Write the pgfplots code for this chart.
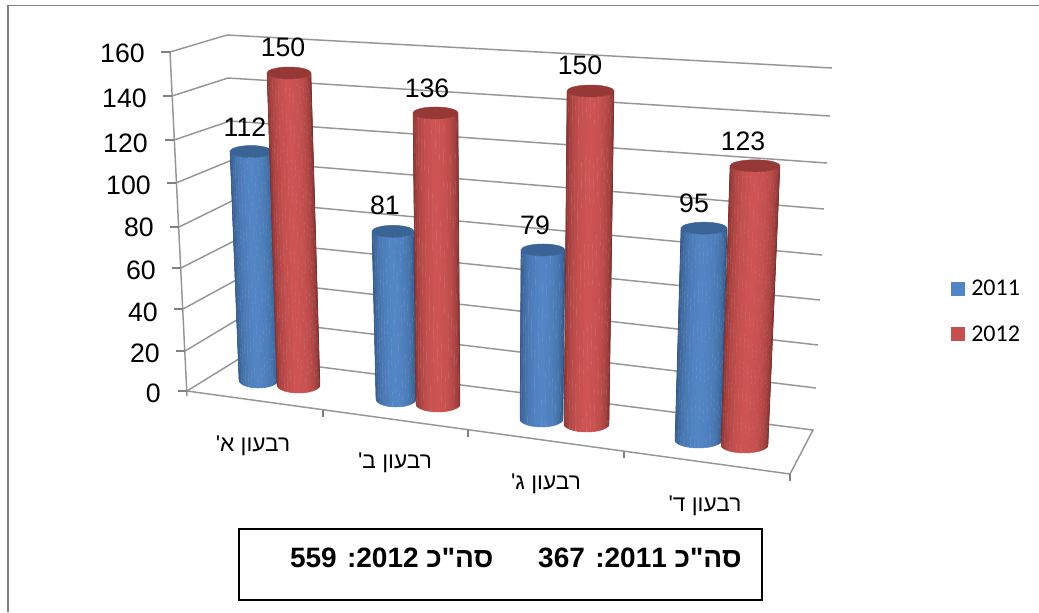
\documentclass[border=0pt]{standalone}
\usepackage{fontspec}
\usepackage{pgfplots}
\pgfplotsset{compat=1.18}
\setmainfont{Liberation Sans}
\newfontfamily\heb[Script=Hebrew]{Liberation Sans}
\newfontfamily\carl{Carlito}
\TeXXeTstate=1
\definecolor{bmid}{RGB}{82,133,196}
\definecolor{bdark}{RGB}{43,74,115}
\definecolor{bcap}{RGB}{58,100,150}
\definecolor{rmid}{RGB}{205,84,83}
\definecolor{rdark}{RGB}{111,42,40}
\definecolor{rcap}{RGB}{150,56,54}
\definecolor{gridc}{RGB}{150,150,150}
\definecolor{tickc}{RGB}{128,128,128}
% #1 colour prefix, #2 value, #3 top centre x, #4 top half width,
% #5 base centre x, #6 base half width, #7 base y (pixels), #8 pixels per unit
\newcommand{\cyl}[8]{%
  \pgfmathsetmacro\yt{#7-#8*#2}%
  \foreach \a/\b/\p in {180/170/15,170/160/30,160/150/45,150/140/60,140/130/72,130/120/82,120/110/90,110/100/96,100/90/100,90/80/100,80/70/97,70/60/92,60/50/84,50/40/74,40/30/62,30/20/48,20/10/32,10/0/15}{%
    \pgfmathsetmacro\xta{#3+#4*cos(\a)}\pgfmathsetmacro\xtb{#3+#4*cos(\b)}%
    \pgfmathsetmacro\xba{#5+#6*cos(\a)}\pgfmathsetmacro\xbb{#5+#6*cos(\b)}%
    \pgfmathsetmacro\yta{\yt+6*sin(\a)}\pgfmathsetmacro\ytb{\yt+6*sin(\b)}%
    \pgfmathsetmacro\yba{#7+8*sin(\a)}\pgfmathsetmacro\ybb{#7+8*sin(\b)}%
    \edef\temp{\noexpand\addplot[forget plot,fill=#1mid!\p!#1dark,draw=#1mid!\p!#1dark,line width=.3pt] coordinates {(\xta,\yta)(\xba,\yba)(\xbb,\ybb)(\xtb,\ytb)} --cycle;}\temp
  }%
  \gdef\capcoords{}%
  \foreach \a in {0,20,...,340}{%
    \pgfmathsetmacro\xx{#3+#4*cos(\a)}\pgfmathsetmacro\yy{\yt+6*sin(\a)}%
    \xdef\capcoords{\capcoords (\xx,\yy)}%
  }%
  \edef\temp{\noexpand\addplot[forget plot,fill=#1cap,draw=#1cap,line width=.3pt,smooth] coordinates {\capcoords} --cycle;}\temp
}
\newcommand{\px}[1]{\fontsize{#1}{#1}\selectfont}
\begin{document}
\begin{tikzpicture}
\begin{axis}[
  x=0.75pt,y=0.75pt,y dir=reverse,
  xmin=0,xmax=1039,ymin=0,ymax=612,
  hide axis,clip=true,
  legend style={at={(axis cs:951,277)},anchor=north west,draw=none,fill=none,
    font=\carl\px{18},row sep=17pt,inner sep=0pt,legend cell align=left,
    /tikz/every even column/.append style={column sep=0pt}},
  legend image code/.code={\fill[#1] (0pt,-5.2pt) rectangle (10pt,5.2pt);\path (0pt,0pt)--(13pt,0pt);},
]
% background and outer frame
\addplot[forget plot,fill=white,draw=none] coordinates {(0,0)(1039,0)(1039,612)(0,612)} --cycle;
\addplot[forget plot,color=tickc,line width=1.2pt] coordinates {(8,612)(8,5.5)(1039,5.5)};
% gridlines (front-left, back corner, right end)
\addplot[forget plot,color=gridc,line width=1.1pt] coordinates {(170,52)(227,35)(832,68)};
\addplot[forget plot,color=gridc,line width=1.1pt] coordinates {(172,96)(228,78)(830,116)};
\addplot[forget plot,color=gridc,line width=1.1pt] coordinates {(174,140)(230,121)(827,163)};
\addplot[forget plot,color=gridc,line width=1.1pt] coordinates {(176,183)(232,160)(824,209)};
\addplot[forget plot,color=gridc,line width=1.1pt] coordinates {(179,227)(234,200)(822,255)};
\addplot[forget plot,color=gridc,line width=1.1pt] coordinates {(181,268)(236,240)(820,300)};
\addplot[forget plot,color=gridc,line width=1.1pt] coordinates {(183,309)(238,279)(818,345)};
\addplot[forget plot,color=gridc,line width=1.1pt] coordinates {(185,351)(240,318)(816,388)};
\addplot[forget plot,color=gridc,line width=1.1pt] coordinates {(187,391)(242,357)(813,430)(790,474)(187,391)};
% left axis line and ticks
\addplot[forget plot,color=gridc,line width=1.1pt] coordinates {(170,52)(187,396)};
\addplot[forget plot,color=tickc,line width=.9pt] coordinates {(161,52)(170,52)};
\addplot[forget plot,color=tickc,line width=.9pt] coordinates {(163,96)(172,96)};
\addplot[forget plot,color=tickc,line width=.9pt] coordinates {(165,140)(174,140)};
\addplot[forget plot,color=tickc,line width=.9pt] coordinates {(167,183)(176,183)};
\addplot[forget plot,color=tickc,line width=.9pt] coordinates {(170,227)(179,227)};
\addplot[forget plot,color=tickc,line width=.9pt] coordinates {(172,268)(181,268)};
\addplot[forget plot,color=tickc,line width=.9pt] coordinates {(174,309)(183,309)};
\addplot[forget plot,color=tickc,line width=.9pt] coordinates {(176,351)(185,351)};
\addplot[forget plot,color=tickc,line width=.9pt] coordinates {(178,391)(187,391)};
% category ticks
\addplot[forget plot,color=tickc,line width=.9pt] coordinates {(323,410)(323,417)};
\addplot[forget plot,color=tickc,line width=.9pt] coordinates {(468,430)(468,437)};
\addplot[forget plot,color=tickc,line width=.9pt] coordinates {(624,452)(624,458)};
\addplot[forget plot,color=tickc,line width=.9pt] coordinates {(790,474)(790,481)};
% cylinders
\cyl{b}{112}{251}{21}{258.5}{19.5}{380}{2.04}
\cyl{r}{150}{289}{22}{298.5}{21.5}{385}{2.08}
\cyl{b}{81}{393}{21}{396}{20}{399}{2.07}
\cyl{r}{136}{435.5}{22.5}{438}{22}{404}{2.14}
\cyl{b}{79}{543}{22}{541.5}{21.5}{419}{2.14}
\cyl{r}{150}{590.5}{23.5}{586.5}{22.5}{424}{2.22}
\cyl{b}{95}{704}{23}{698.5}{23.5}{440}{2.23}
\cyl{r}{123}{755}{25}{744.5}{23.5}{445}{2.27}
% data labels
\node[font=\px{20}] at (axis cs:245,127) {112};
\node[font=\px{20}] at (axis cs:283,47) {150};
\node[font=\px{20}] at (axis cs:385,205) {81};
\node[font=\px{20}] at (axis cs:427,88) {136};
\node[font=\px{20}] at (axis cs:535,225) {79};
\node[font=\px{20}] at (axis cs:580,65) {150};
\node[font=\px{20}] at (axis cs:694,203) {95};
\node[font=\px{20}] at (axis cs:743,141) {123};
% value axis labels
\node[font=\px{20},anchor=east,inner sep=0pt] at (axis cs:145,53) {160};
\node[font=\px{20},anchor=east,inner sep=0pt] at (axis cs:147,98) {140};
\node[font=\px{20},anchor=east,inner sep=0pt] at (axis cs:148,143) {120};
\node[font=\px{20},anchor=east,inner sep=0pt] at (axis cs:151,185) {100};
\node[font=\px{20},anchor=east,inner sep=0pt] at (axis cs:154,227) {80};
\node[font=\px{20},anchor=east,inner sep=0pt] at (axis cs:156,270) {60};
\node[font=\px{20},anchor=east,inner sep=0pt] at (axis cs:158,312) {40};
\node[font=\px{20},anchor=east,inner sep=0pt] at (axis cs:160,353) {20};
\node[font=\px{20},anchor=east,inner sep=0pt] at (axis cs:161,393) {0};
% category labels
\node[font=\heb\px{17}] at (axis cs:253,446) {\beginR רבעון א'\endR};
\node[font=\heb\px{17}] at (axis cs:395,463) {\beginR רבעון ב'\endR};
\node[font=\heb\px{17}] at (axis cs:546,484) {\beginR רבעון ג'\endR};
\node[font=\heb\px{17}] at (axis cs:705,506) {\beginR רבעון ד'\endR};
% totals box
\addplot[forget plot,color=black,line width=1.3pt] coordinates {(239,529)(762,529)(762,600)(239,600)} --cycle;
\node[font=\heb\bfseries\px{21},anchor=east,inner sep=0pt] at (axis cs:742,558)
  {\beginR סה"כ \beginL2011\endL: \beginL367\endL\hspace{1.6em}סה"כ \beginL2012\endL: \beginL559\endL\endR};
% legend
\addlegendimage{fill=bmid,draw=none}
\addlegendentry{2011}
\addlegendimage{fill=rmid!95!black,draw=none}
\addlegendentry{2012}
\end{axis}
\end{tikzpicture}
\end{document}
